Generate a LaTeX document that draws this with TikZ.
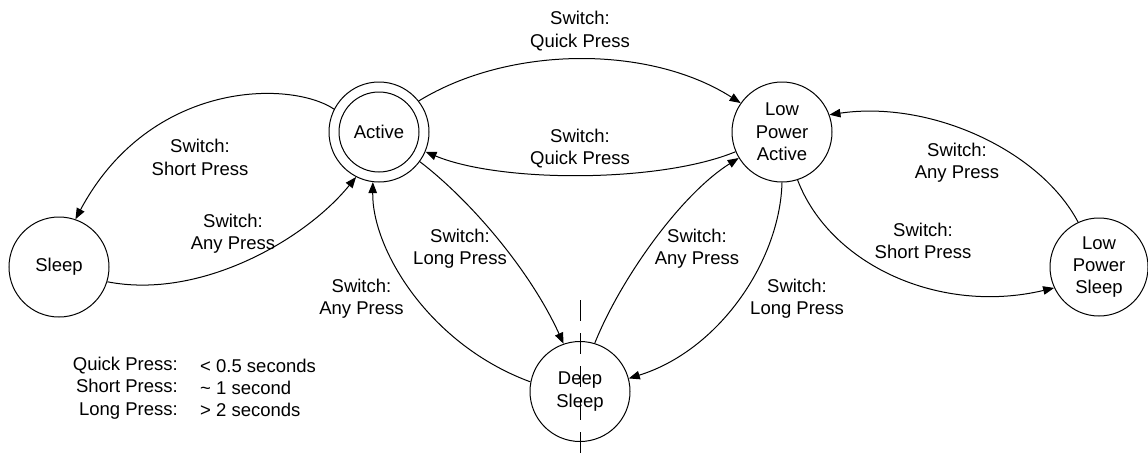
\documentclass[tikz,border=0pt]{standalone}
\usepackage{fontspec}
\setmainfont{Liberation Sans}
\usetikzlibrary{arrows.meta}
\begin{document}
\begin{tikzpicture}[x=1pt,y=-1pt,
  state/.style={circle,draw,line width=1pt,minimum size=100pt,inner sep=0pt,align=center,font=\fontsize{18.5}{22.3}\selectfont},
  lbl/.style={align=center,inner sep=0pt,font=\fontsize{18.5}{22.3}\selectfont},
  tr/.style={line width=1pt,-{Triangle[length=11pt,width=8.5pt]}},
]
\useasboundingbox (0,0) rectangle (1148,455);
% states
\node[state] (A) at (379,132) {Active};
\node[circle,draw,line width=1pt,minimum size=80pt,inner sep=0pt] (Ain) at (A.center) {};
\node[state] (LPA) at (782,132) {Low\\Power\\Active};
\node[state] (S) at (59,267) {Sleep};
\node[state,minimum size=98pt] (LPS) at (1099,267) {Low\\Power\\Sleep};
\node[state] (D) at (580,391.5) {Deep\\Sleep};
% dashed line
\coordinate (dt) at (580,300);
\coordinate (db) at (580,455);
\draw[line width=1pt,dash pattern=on 21pt off 12pt] (dt) -- (db);
% transitions
\draw[tr] (A.38) .. controls (510,45) and (650,45) .. (LPA.145);
\draw[tr] (LPA.203) .. controls (660,183) and (500,183) .. (A.337);
\draw[tr] (A.153) .. controls (290,80) and (150,80) .. (S.71);
\draw[tr] (S.343) .. controls (200,300) and (305,240) .. (A.243);
\draw[tr] (A.324) .. controls (470,200) and (530,270) .. (D.109);
\draw[tr] (D.169) .. controls (430,345) and (372,250) .. (A.263);
\draw[tr] (D.73) .. controls (620,280) and (680,195) .. (LPA.211);
\draw[tr] (LPA.270) .. controls (780,260) and (720,350) .. (D.15);
\draw[tr] (LPA.288) .. controls (830,265) and (940,315) .. (LPS.205);
\draw[tr] (LPS.115) .. controls (1040,150) and (930,100) .. (LPA.20);
% labels
\node[lbl] (l1) at (580,31) {Switch:\\Quick Press};
\node[lbl] (l2) at (580,148.5) {Switch:\\Quick Press};
\node[lbl] (l3) at (200,157.5) {Switch:\\Short Press};
\node[lbl] (l4) at (233,234) {Switch:\\Any Press};
\node[lbl] (l5) at (460,249) {Switch:\\Long Press};
\node[lbl] (l6) at (361.5,299) {Switch:\\Any Press};
\node[lbl] (l7) at (697,249) {Switch:\\Any Press};
\node[lbl] (l8) at (797,299) {Switch:\\Long Press};
\node[lbl] (l9) at (923,241) {Switch:\\Short Press};
\node[lbl] (l10) at (957,163) {Switch:\\Any Press};
% legend
\node[lbl,align=right,anchor=east] (lg1) at (178,388) {Quick Press:\\Short Press:\\Long Press:};
\node[lbl,align=left,anchor=west] (lg2) at (200,388) {< 0.5 seconds\\\textasciitilde{} 1 second\\> 2 seconds};
\end{tikzpicture}
\end{document}
